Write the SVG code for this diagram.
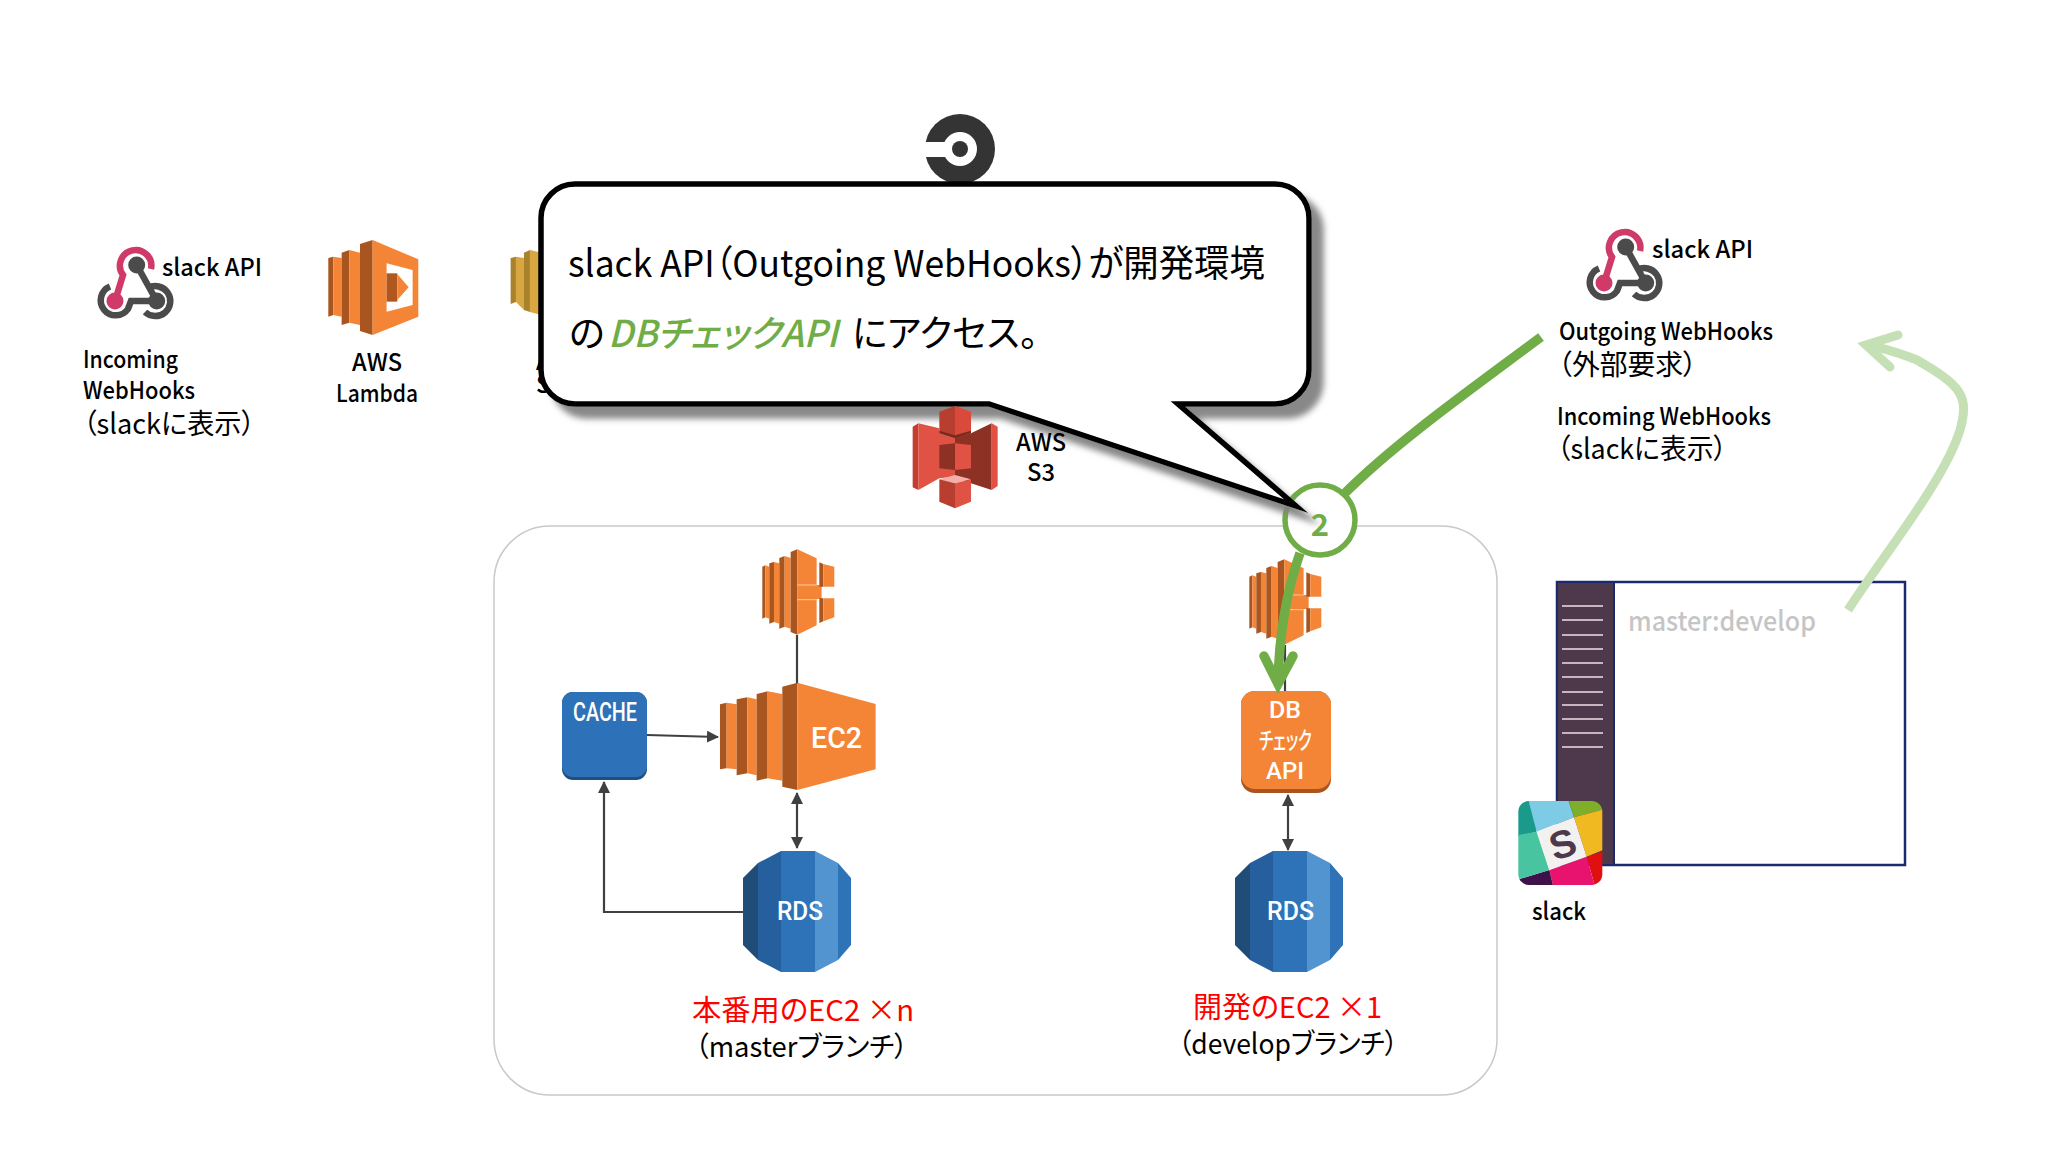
<svg xmlns="http://www.w3.org/2000/svg" width="2048" height="1152" viewBox="0 0 2048 1152">
<style>
text{font-family:"Noto Sans CJK JP","Noto Sans",sans-serif;fill:#000;font-feature-settings:"palt"}
.b{font-weight:500;font-size:24px}
.n{font-size:28px;font-weight:400}
.w{fill:#fff;font-family:Roboto,"Noto Sans CJK JP",sans-serif;font-weight:500}
.red{fill:#f00;font-size:29px}
.callout{font-size:37px}
.conn{fill:none;stroke:#404040;stroke-width:2.2}
.green{fill:none;stroke:#70ad47;stroke-width:9.5}
.lgreen{fill:none;stroke:#c5e0b4;stroke-width:9}
.oL{fill:#f58536}.oD{fill:#a9551f}
.pink{fill:none;stroke:#d03a68;stroke-width:6.5}
.gray{fill:none;stroke:#4b4b4b;stroke-width:6.5}
</style>
<defs>
<marker id="ah" viewBox="0 0 12 12" refX="11" refY="6" markerUnits="userSpaceOnUse" markerWidth="12" markerHeight="12" orient="auto-start-reverse"><path d="M0,0L12,6L0,12z" fill="#404040"/></marker>
<filter id="sh" x="-5%" y="-5%" width="115%" height="120%"><feDropShadow dx="12" dy="12" stdDeviation="3" flood-color="#828282" flood-opacity=".95"/></filter>
<g id="hook">
<path class="gray" stroke-width="5" d="M41.7,19L61.7,55"/>
<path class="pink" d="M56,23A15.7,15.7 0 1 0 28,29L20,55"/>
<circle cx="41.7" cy="19" r="8.5" fill="#4b4b4b"/>
<circle cx="20" cy="55" r="8.5" fill="#d03a68"/>
<path class="gray" d="M15,40.5A15,15 0 1 0 33,63L36,55L62,55"/>
<path class="gray" d="M53,42A15,15 0 1 1 50,66"/>
<circle cx="61.7" cy="55" r="8.5" fill="#4b4b4b"/>
</g>
<g id="asg" transform="translate(540,530) scale(.3333)">
<polygon class="oD" points="667,110 676,106 676,262 667,266"/>
<polygon class="oL" points="676,106 688,110 688,266 676,262"/>
<polygon class="oD" points="688,100 702,96 702,276 688,281"/>
<polygon class="oL" points="702,96 718,100 718,281 702,276"/>
<polygon class="oD" points="718,84 734,78 734,290 718,296"/>
<polygon class="oL" points="734,78 752,84 752,296 734,290"/>
<polygon class="oD" points="752,66 772,58 772,314 752,306"/>
<polygon class="oL" points="772,58 830,85 830,165 845,165 845,207 830,207 830,286 772,314"/>
<path d="M772,165H830M772,209H830" stroke="#fbc99c" stroke-width="3" fill="none"/>
<polygon class="oD" points="838,97 850,102 850,170 838,170"/>
<polygon class="oL" points="850,102 883,110 883,170 850,170"/>
<polygon class="oD" points="838,205 850,205 850,274 838,279"/>
<polygon class="oL" points="850,205 883,205 883,262 850,274"/>
</g>
<g id="rds">
<polygon points="0,27 15,12 15,109 0,94" fill="#1f4d78"/>
<polygon points="15,12 38,0 38,121 15,109" fill="#265f9e"/>
<rect x="38" width="34" height="121" fill="#2e73b8"/>
<polygon points="72,0 95,12 95,109 72,121" fill="#5294cf"/>
<polygon points="95,12 108,27 108,94 95,109" fill="#2e73b8"/>
</g>
<clipPath id="sc"><rect x="55" y="693" width="252" height="252" rx="32"/></clipPath>
</defs>
<rect width="2048" height="1152" fill="#fff"/>
<rect id="container" x="494" y="526" width="1003" height="569" rx="56" fill="#fff" stroke="#c9c9c9" stroke-width="1.5"/>

<g id="webhook-left">
<use href="#hook" x="95" y="246"/>
<text class="b" x="162" y="276" textLength="100" lengthAdjust="spacingAndGlyphs">slack API</text>
<text class="b" x="83" y="368" textLength="95" lengthAdjust="spacingAndGlyphs">Incoming</text>
<text class="b" x="83" y="399" textLength="112" lengthAdjust="spacingAndGlyphs">WebHooks</text>
<text class="n" x="83" y="434" textLength="172" lengthAdjust="spacingAndGlyphs">（slackに表示）</text>
</g>
<g id="lambda">
<g transform="translate(60,100) scale(.3333)">
<polygon class="oD" points="805,474 820,470 820,645 805,650"/>
<polygon class="oL" points="820,470 845,474 845,650 820,645"/>
<polygon class="oD" points="845,458 868,450 868,668 845,675"/>
<polygon class="oL" points="868,450 900,458 900,675 868,668"/>
<polygon class="oD" points="900,432 938,420 938,705 900,693"/>
<polygon class="oL" points="938,420 1075,478 1075,650 938,705"/>
<polygon points="980,490 1058,510 1058,615 980,635" fill="#fff"/>
<polygon points="980,520 1012,520 1012,605 980,605" fill="#b0561f"/>
<polygon class="oL" points="1012,522 1046,562 1012,600"/>
</g>
<text class="b" x="352" y="371" textLength="50" lengthAdjust="spacingAndGlyphs">AWS</text>
<text class="b" x="336" y="402" textLength="82" lengthAdjust="spacingAndGlyphs">Lambda</text>
</g>
<g id="gold-service">
<g transform="translate(60,100) scale(.3333)">
<polygon points="1352,474 1368,470 1368,606 1352,612" fill="#a9822e"/>
<polygon points="1368,470 1392,474 1392,630 1368,606" fill="#d9a741"/>
<polygon points="1392,458 1410,450 1410,636 1392,630" fill="#a9822e"/>
<polygon points="1410,450 1445,458 1445,645 1410,636" fill="#d9a741"/>
</g>
<text class="b" x="536" y="370">A</text>
<text class="b" x="536" y="393">S</text>
</g>
<g id="circleci">
<circle cx="960" cy="149" r="35" fill="#343434"/>
<circle cx="960" cy="149" r="17" fill="#fff"/>
<rect x="920" y="142" width="30" height="15" fill="#fff"/>
<circle cx="960" cy="149" r="8" fill="#343434"/>
</g>

<g id="connectors">
<path class="conn" d="M797,635V684"/>
<path class="conn" d="M1285,645V692"/>
<path class="conn" d="M647,735L718,737" marker-end="url(#ah)"/>
<path class="conn" d="M797,793V848" marker-start="url(#ah)" marker-end="url(#ah)"/>
<path class="conn" d="M1288,795V850" marker-start="url(#ah)" marker-end="url(#ah)"/>
<path class="conn" d="M743,912H604V782" marker-end="url(#ah)"/>
</g>

<g id="asg-prod"><use href="#asg"/></g>
<g id="asg-dev"><use href="#asg" x="487" y="10"/></g>

<g id="cache">
<rect x="562" y="692" width="85" height="88" rx="11" fill="#1f4e7f"/>
<rect x="562" y="692" width="85" height="85" rx="11" fill="#2d72b8"/>
<text class="w" x="573" y="721" font-size="25" textLength="64" lengthAdjust="spacingAndGlyphs">CACHE</text>
</g>
<g id="ec2">
<g transform="translate(540,530) scale(.3333)">
<polygon class="oD" points="540,523 560,518 560,715 540,718"/>
<polygon class="oL" points="560,518 590,523 590,718 560,715"/>
<polygon class="oD" points="590,508 622,502 622,730 590,736"/>
<polygon class="oL" points="622,502 650,508 650,736 622,730"/>
<polygon class="oD" points="650,492 683,484 683,745 650,752"/>
<polygon class="oL" points="683,484 727,492 727,752 683,745"/>
<polygon class="oD" points="727,470 772,458 772,780 727,770"/>
<polygon class="oL" points="772,458 1007,522 1007,718 772,780"/>
</g>
<text class="w" x="811" y="748" font-size="29" textLength="51" lengthAdjust="spacingAndGlyphs" font-weight="400">EC2</text>
</g>
<g id="rds-prod">
<use href="#rds" x="743" y="851"/>
<text class="w" x="777" y="920" font-size="25" textLength="46" lengthAdjust="spacingAndGlyphs" font-weight="400">RDS</text>
</g>
<g id="label-prod">
<text class="red" x="692" y="1021" textLength="222" lengthAdjust="spacingAndGlyphs">本番用のEC2 ×n</text>
<text class="n" x="695" y="1057" textLength="213" lengthAdjust="spacingAndGlyphs">（masterブランチ）</text>
</g>
<g id="db-api">
<rect x="1241" y="691" width="90" height="102" rx="14" fill="#a9551f"/>
<rect x="1241" y="691" width="90" height="98" rx="14" fill="#f58536"/>
<text class="w" x="1269" y="718" font-size="24" textLength="32" lengthAdjust="spacingAndGlyphs" font-weight="400">DB</text>
<text class="w" x="1259" y="749" font-size="24" textLength="53" lengthAdjust="spacingAndGlyphs" font-weight="400">チェック</text>
<text class="w" x="1266" y="779" font-size="24" textLength="38" lengthAdjust="spacingAndGlyphs" font-weight="400">API</text>
</g>
<g id="rds-dev">
<use href="#rds" x="1235" y="851"/>
<text class="w" x="1267" y="920" font-size="25" textLength="47" lengthAdjust="spacingAndGlyphs" font-weight="400">RDS</text>
</g>
<g id="label-dev">
<text class="red" x="1193" y="1018" textLength="189" lengthAdjust="spacingAndGlyphs">開発のEC2 ×1</text>
<text class="n" x="1178" y="1054" textLength="220" lengthAdjust="spacingAndGlyphs">（developブランチ）</text>
</g>
<g id="webhook-right">
<use href="#hook" x="1584" y="228"/>
<text class="b" x="1652" y="258" textLength="101" lengthAdjust="spacingAndGlyphs">slack API</text>
<text class="b" x="1559" y="340" textLength="214" lengthAdjust="spacingAndGlyphs">Outgoing WebHooks</text>
<text class="n" x="1558" y="375" textLength="139" lengthAdjust="spacingAndGlyphs">（外部要求）</text>
<text class="b" x="1557" y="425" textLength="214" lengthAdjust="spacingAndGlyphs">Incoming WebHooks</text>
<text class="n" x="1557" y="459" textLength="170" lengthAdjust="spacingAndGlyphs">（slackに表示）</text>
</g>
<g id="slack-window">
<rect x="1557" y="582" width="348" height="283" fill="#fff" stroke="#1a2a6c" stroke-width="2.5"/>
<rect x="1558" y="583" width="56" height="281" fill="#4d394b"/>
<path d="M1614,582V865" stroke="#1a2a6c" stroke-width="2" fill="none"/>
<path d="M1562,606h41M1562,620h41M1562,635h41M1562,649h41M1562,663h41M1562,677h41M1562,692h41M1562,705h41M1562,719h41M1562,733h41M1562,747h41" stroke="#f0dde8" stroke-width="1.5" fill="none"/>
<text x="1628" y="631" font-size="27" font-weight="500" style="fill:#c5c5c5" textLength="188" lengthAdjust="spacingAndGlyphs">master:develop</text>
</g>
<g id="slack">
<g transform="translate(1500,570) scale(.3333)" clip-path="url(#sc)">
<polygon points="40,690 100,690 110,785 55,800 40,800" fill="#1a9a8a"/>
<polygon points="85,690 205,690 222,742 110,785" fill="#7dcbe4"/>
<polygon points="205,690 320,690 320,716 222,742" fill="#7fae2b"/>
<polygon points="222,742 320,716 320,836 260,860" fill="#f0b921"/>
<polygon points="260,860 320,840 320,950 285,950" fill="#e01010"/>
<polygon points="148,900 260,860 285,950 160,950" fill="#e8136e"/>
<polygon points="50,930 148,900 160,950 50,950" fill="#3e1148"/>
<polygon points="40,798 110,785 148,900 50,930" fill="#48c4a0"/>
<polygon points="110,785 222,742 260,860 148,900" fill="#f3f1ef"/>
</g>
<text x="1550" y="858" font-size="39" font-weight="700" style="fill:#4d394b;font-family:'Liberation Sans',sans-serif" transform="rotate(-18 1562 845)">S</text>
<text class="b" x="1532" y="920" textLength="54" lengthAdjust="spacingAndGlyphs">slack</text>
</g>

<g id="flow-connectors">
<path class="green" d="M1541,337C1470,390 1395,443 1344,494"/>
<path class="green" d="M1300,553C1287,590 1279,635 1278,684"/>
<path class="green" stroke-linejoin="miter" stroke-linecap="round" d="M1264,656L1278,684L1293,656"/>
<circle id="step-circle" cx="1320" cy="520" r="35" fill="#fff" stroke="#70ad47" stroke-width="5.5"/>
<path class="lgreen" d="M1848,610C1880,560 1945,480 1960,430C1970,395 1960,385 1917,360C1898,352 1884,349 1866,344"/>
<path class="lgreen" stroke-linecap="round" d="M1898,335L1866,345L1890,367"/>
</g>

<g id="callout">
<path d="M575,184H1275A34,34 0 0 1 1309,218V370A34,34 0 0 1 1275,404H1178L1296,506L989,404H575A34,34 0 0 1 541,370V218A34,34 0 0 1 575,184Z" fill="#fff" stroke="#000" stroke-width="5.5" stroke-miterlimit="20" filter="url(#sh)"/>
<text class="callout" x="568" y="277" textLength="697" lengthAdjust="spacingAndGlyphs">slack API（Outgoing WebHooks）が開発環境</text>
<text class="callout" x="569" y="347">の</text>
<text class="callout" x="608" y="347" font-style="italic" font-weight="500" style="fill:#70ad47" textLength="230" lengthAdjust="spacingAndGlyphs">DBチェックAPI</text>
<text class="callout" x="852" y="347" textLength="186" lengthAdjust="spacingAndGlyphs">にアクセス。</text>
</g>
<g id="s3">
<g transform="translate(900,400) scale(.3333)">
<polygon points="38,80 55,70 55,270 38,262" fill="#c43d30"/>
<polygon points="55,70 118,85 118,100 165,115 165,230 118,235 55,270" fill="#e05243"/>
<polygon points="165,112 213,100 275,70 275,270 213,250 165,228" fill="#8c3123"/>
<polygon points="275,70 293,80 293,258 275,270" fill="#e05243"/>
<polygon points="118,35 165,18 165,115 118,100" fill="#b83e30"/>
<polygon points="165,18 213,35 213,100 165,115" fill="#d9493c"/>
<polygon points="118,92 165,106 213,92 213,100 165,115 118,100" fill="#7b2a20"/>
<polygon points="118,135 165,130 165,210 118,205" fill="#8c3123"/>
<polygon points="165,130 213,135 213,205 165,210" fill="#e05243"/>
<polygon points="118,238 165,225 213,238 165,250" fill="#f2b0a9"/>
<polygon points="118,238 165,250 165,325 118,305" fill="#b83e30"/>
<polygon points="165,250 213,238 213,305 165,325" fill="#e05243"/>
</g>
<text class="b" x="1016" y="451" textLength="50" lengthAdjust="spacingAndGlyphs">AWS</text>
<text class="b" x="1027" y="481" textLength="28" lengthAdjust="spacingAndGlyphs">S3</text>
</g>
<text id="step-number" x="1320" y="536" font-size="31" font-weight="700" text-anchor="middle" style="fill:#70ad47">2</text>
</svg>
